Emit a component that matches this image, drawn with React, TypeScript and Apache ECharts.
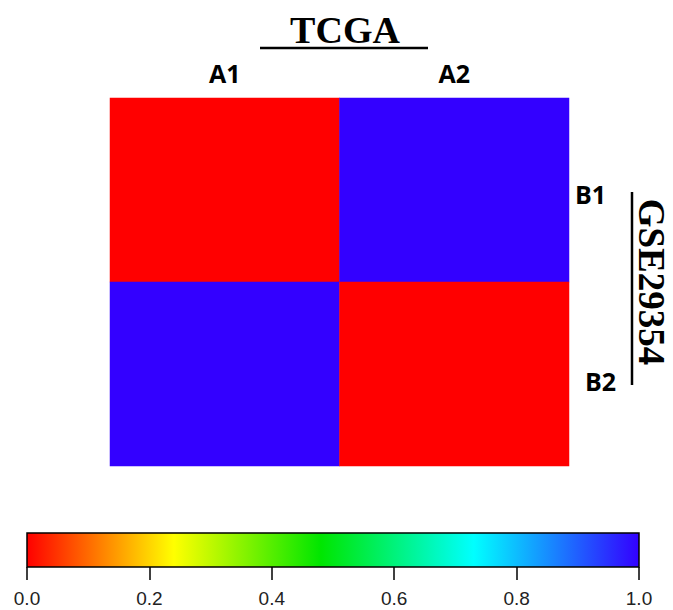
import React, { useEffect, useRef } from "react";
import * as echarts from "echarts";

const xCategories = ["A1", "A2"];
const yCategories = ["B2", "B1"];
// [xIndex, yIndex, value]
const cellValues: [number, number, number][] = [
  [0, 1, 0],
  [1, 1, 1],
  [0, 0, 1],
  [1, 0, 0],
];
const scaleTicks = [0, 0.2, 0.4, 0.6, 0.8, 1.0];
const paletteStops = [
  { offset: 0, color: "#FF0000" },
  { offset: 0.24, color: "#FFFF00" },
  { offset: 0.48, color: "#00E600" },
  { offset: 0.73, color: "#00FFFF" },
  { offset: 1, color: "#3300FF" },
];
const topTitle = "TCGA";
const sideTitle = "GSE29354";

if (typeof document !== "undefined") {
  document.body.style.margin = "0";
  document.body.style.overflow = "hidden";
}

export default function App() {
  const ref = useRef<HTMLDivElement>(null);
  useEffect(() => {
    if (!ref.current) return;
    document.body.style.margin = "0";
    const chart = echarts.init(ref.current, undefined, { renderer: "svg" });
    const gradient = new echarts.graphic.LinearGradient(0, 0, 1, 0, paletteStops);
    const labelFont = {
      fontFamily: "Open Sans",
      fontWeight: "bold",
      fontSize: 25,
      color: "#000",
    };
    chart.setOption({
      animation: false,
      backgroundColor: "#ffffff",
      title: {
        text: topTitle,
        left: 340,
        textAlign: "center",
        top: 6,
        textStyle: {
          fontFamily: "Liberation Serif",
          fontWeight: "bold",
          fontSize: 38,
          color: "#000",
        },
      },
      grid: [
        { left: 110, top: 98, width: 459, height: 368, outerBoundsMode: "none", containLabel: false },
        {
          left: 27,
          top: 533,
          width: 612,
          height: 34,
          show: true,
          backgroundColor: gradient,
          borderColor: "#000",
          borderWidth: 1.5,
          outerBoundsMode: "none",
          containLabel: false,
        },
      ],
      xAxis: [
        {
          type: "category",
          gridIndex: 0,
          data: xCategories,
          position: "top",
          axisLine: { show: false },
          axisTick: { show: false },
          splitLine: { show: false },
          axisLabel: { margin: 13, ...labelFont },
        },
        {
          type: "value",
          gridIndex: 1,
          min: 0,
          max: 1,
          interval: 0.2,
          position: "bottom",
          axisLine: { show: false },
          splitLine: { show: false },
          axisTick: { show: true, length: 13, lineStyle: { color: "#000", width: 1.5 } },
          axisLabel: {
            margin: 22,
            fontFamily: "Liberation Sans",
            fontSize: 19,
            lineHeight: 19,
            color: "#222",
            formatter: (v: number) => v.toFixed(1),
          },
        },
      ],
      yAxis: [
        {
          type: "category",
          gridIndex: 0,
          data: yCategories,
          position: "right",
          axisLine: { show: false },
          axisTick: { show: false },
          splitLine: { show: false },
          axisLabel: {
            margin: 6,
            ...labelFont,
            formatter: (v: string) => (v === "B1" ? "{b1|" + v + "}" : "{b2|" + v + "}"),
            rich: {
              b1: { ...labelFont, padding: [8, 0, 0, 0] },
              b2: { ...labelFont, padding: [14, 0, 0, 10] },
            },
          },
          name: sideTitle,
          nameLocation: "middle",
          nameRotate: -90,
          nameGap: 67,
          nameTextStyle: {
            fontFamily: "Liberation Serif",
            fontWeight: "bold",
            fontSize: 37,
            lineHeight: 30,
            color: "#000",
          },
        },
        {
          type: "category",
          gridIndex: 1,
          data: ["bar"],
          show: false,
        },
      ],
      visualMap: {
        type: "continuous",
        show: false,
        min: 0,
        max: 1,
        seriesIndex: 0,
        inRange: { color: ["#FF0000", "#3300FF"] },
      },
      series: [
        {
          type: "heatmap",
          xAxisIndex: 0,
          yAxisIndex: 0,
          data: cellValues,
          itemStyle: { borderWidth: 0 },
          emphasis: { disabled: true },
        },
      ],
      graphic: [
        {
          type: "line",
          shape: { x1: 260, y1: 48, x2: 428, y2: 48 },
          style: { stroke: "#000", lineWidth: 2.5 },
        },
        {
          type: "line",
          shape: { x1: 632, y1: 192, x2: 632, y2: 385 },
          style: { stroke: "#000", lineWidth: 2.5 },
        },
      ],
    });
    return () => chart.dispose();
  }, []);
  return <div ref={ref} style={{ width: 673, height: 610 }} />;
}
